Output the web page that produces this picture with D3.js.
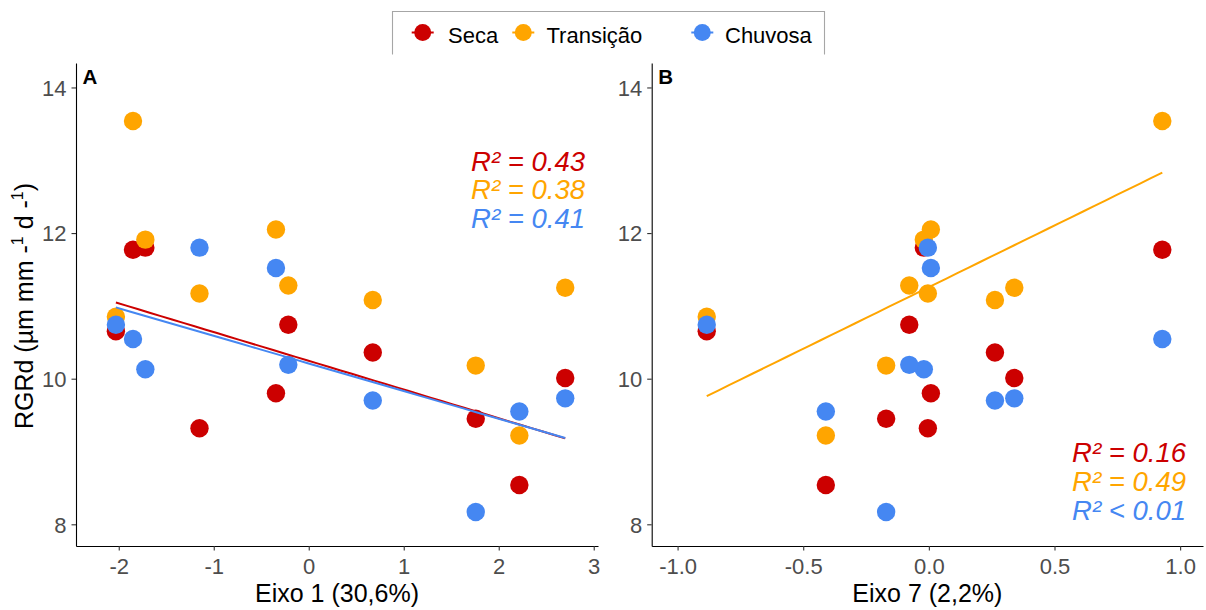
<!DOCTYPE html>
<html>
<head>
<meta charset="utf-8">
<script src="https://cdn.jsdelivr.net/npm/d3@7"></script>
<style>
  html, body { margin: 0; padding: 0; background: #fff; }
  svg { display: block; font-family: "Liberation Sans", Arial, sans-serif; }
</style>
</head>
<body>
<svg id="chart" width="1206" height="610"></svg>
<script>
// Scores of each sample on the two ordination axes
const eixo1 = [-2.03, -1.85, -1.72, -1.15, -0.345, -0.215, 0.674, 1.758, 2.217, 2.70];
const eixo7 = [-0.884, 0.929, -0.02, -0.004, 0.008, -0.078, 0.263, -0.170, -0.410, 0.340];

// RGRd per sample in each season
const seca      = [10.65, 11.77, 11.80, 9.32, 9.80, 10.74, 10.36, 9.45, 8.54, 10.01];
const transicao = [10.85, 13.54, 11.91, 11.17, 12.05, 11.28, 11.08, 10.18, 9.22, 11.25];
const chuvosa   = [10.74, 10.545, 10.13, 11.80, 11.52, 10.19, 9.70, 8.17, 9.55, 9.73];

const seasonNames  = ["Seca", "Transição", "Chuvosa"];
const seasonColors = ["#CC0000", "#FFA500", "#4587F2"];

const r2A = ["R² = 0.43", "R² = 0.38", "R² = 0.41"];
const r2B = ["R² = 0.16", "R² = 0.49", "R² < 0.01"];

const xTicksA = [-2, -1, 0, 1, 2, 3];
const xTicksB = [-1.0, -0.5, 0.0, 0.5, 1.0];
const yTicks  = [8, 10, 12, 14];

const seasonValues = [seca, transicao, chuvosa];

const svg = d3.select("#chart");
const plotTop = 63, plotBottom = 546;
const yDomain = [7.702, 14.336];

// plain hyphen for negative tick labels
const hyphen = fmt => v => fmt(v).replace("\u2212", "-");

function linFit(xs, ys) {
  const mx = d3.mean(xs), my = d3.mean(ys);
  let sxy = 0, sxx = 0;
  xs.forEach((x, i) => { sxy += (x - mx) * (ys[i] - my); sxx += (x - mx) ** 2; });
  const b = sxy / sxx;
  return x => my + b * (x - mx);
}

function panel(opts) {
  const x = d3.scaleLinear().domain(opts.xDomain).range([opts.left, opts.right]);
  const y = d3.scaleLinear().domain(yDomain).range([plotBottom, plotTop]);
  const g = svg.append("g");

  // axes
  const xAxis = d3.axisBottom(x).tickValues(opts.xTicks)
    .tickSizeInner(4.5).tickSizeOuter(0).tickPadding(6)
    .tickFormat(hyphen(opts.xFormat));
  const yAxis = d3.axisLeft(y).tickValues(yTicks)
    .tickSizeInner(4.5).tickSizeOuter(0).tickPadding(5)
    .tickFormat(hyphen(d3.format("d")));
  const gx = g.append("g").attr("transform", `translate(0,${plotBottom})`).call(xAxis);
  const gy = g.append("g").attr("transform", `translate(${opts.left},0)`).call(yAxis);
  [gx, gy].forEach(a => {
    a.select(".domain").attr("stroke", "#000").attr("stroke-width", 1.1);
    a.selectAll(".tick line").attr("stroke", "#333").attr("stroke-width", 1.1);
    a.selectAll(".tick text").attr("fill", "#4D4D4D").attr("font-size", 22)
      .attr("font-family", "Liberation Sans, Arial, sans-serif");
  });
  gy.selectAll(".tick text").attr("dy", "0.36em");
  gx.selectAll(".tick text").attr("dy", "0.78em");

  // points: one layer per season, in legend order
  seasonValues.forEach((vals, s) => {
    g.append("g").selectAll("circle")
      .data(vals.map((v, i) => [opts.xs[i], v]))
      .join("circle")
      .attr("cx", d => x(d[0]))
      .attr("cy", d => y(d[1]))
      .attr("r", 9.2)
      .attr("fill", seasonColors[s]);
  });

  // fitted lines
  opts.fits.forEach(s => {
    const f = linFit(opts.xs, seasonValues[s]);
    const ext = d3.extent(opts.xs);
    const pts = d3.range(0, 41).map(k => ext[0] + (ext[1] - ext[0]) * k / 40);
    g.append("path")
      .datum(pts)
      .attr("fill", "none")
      .attr("stroke", seasonColors[s])
      .attr("stroke-width", 2)
      .attr("d", d3.line().x(d => x(d)).y(d => y(f(d))));
  });

  // panel tag
  g.append("text").attr("x", opts.left + 6.5).attr("y", 84)
    .attr("font-size", 20.5).attr("font-weight", "bold").attr("fill", "#000")
    .text(opts.tag);

  // R² annotations
  g.selectAll("text.r2").data(opts.r2).join("text")
    .attr("class", "r2")
    .attr("x", opts.r2x)
    .attr("y", (d, i) => opts.r2y + i * 28.7)
    .attr("text-anchor", "end")
    .attr("font-size", 27.5)
    .attr("font-style", "italic")
    .attr("fill", (d, i) => seasonColors[i])
    .text(d => d);

  // axis title
  g.append("text").attr("x", (opts.left + opts.right) / 2).attr("y", 602)
    .attr("text-anchor", "middle").attr("font-size", 25).attr("fill", "#000")
    .text(opts.title);
}

panel({
  left: 76, right: 598, xDomain: [-2.45, 3.045], xTicks: xTicksA,
  xFormat: d3.format("d"), xs: eixo1, fits: [0, 2], tag: "A",
  r2: r2A, r2x: 585, r2y: 170.7, title: "Eixo 1 (30,6%)"
});
panel({
  left: 651.7, right: 1203, xDomain: [-1.103, 1.091], xTicks: xTicksB,
  xFormat: d3.format(".1f"), xs: eixo7, fits: [1], tag: "B",
  r2: r2B, r2x: 1186, r2y: 462.3, title: "Eixo 7 (2,2%)"
});

// shared y title, with raised exponents
const yt = svg.append("text")
  .attr("transform", "translate(33,306) rotate(-90)")
  .attr("text-anchor", "middle").attr("font-size", 25).attr("fill", "#000");
yt.append("tspan").text("RGRd (µm mm -");
yt.append("tspan").attr("font-size", 16).attr("dy", -10).text("1");
yt.append("tspan").attr("dy", 10).text(" d -");
yt.append("tspan").attr("font-size", 16).attr("dy", -10).text("1");
yt.append("tspan").attr("dy", 10).text(")");

// legend
const lg = svg.append("g");
lg.append("path")
  .attr("d", "M392.5,54.5 V11.5 H824.5 V54.5")
  .attr("fill", "none").attr("stroke", "#A6A6A6").attr("stroke-width", 1.1);
const keyX = [422.7, 523.3, 702.3];
const textX = [448, 546.5, 725];
seasonNames.forEach((name, i) => {
  lg.append("line")
    .attr("x1", keyX[i] - 11).attr("x2", keyX[i] + 11)
    .attr("y1", 32.5).attr("y2", 32.5)
    .attr("stroke", seasonColors[i]).attr("stroke-width", 2);
  lg.append("circle").attr("cx", keyX[i]).attr("cy", 32.5).attr("r", 8.5)
    .attr("fill", seasonColors[i]);
  lg.append("text").attr("x", textX[i]).attr("y", 42.5)
    .attr("font-size", 22).attr("fill", "#000").text(name);
});
</script>
</body>
</html>
